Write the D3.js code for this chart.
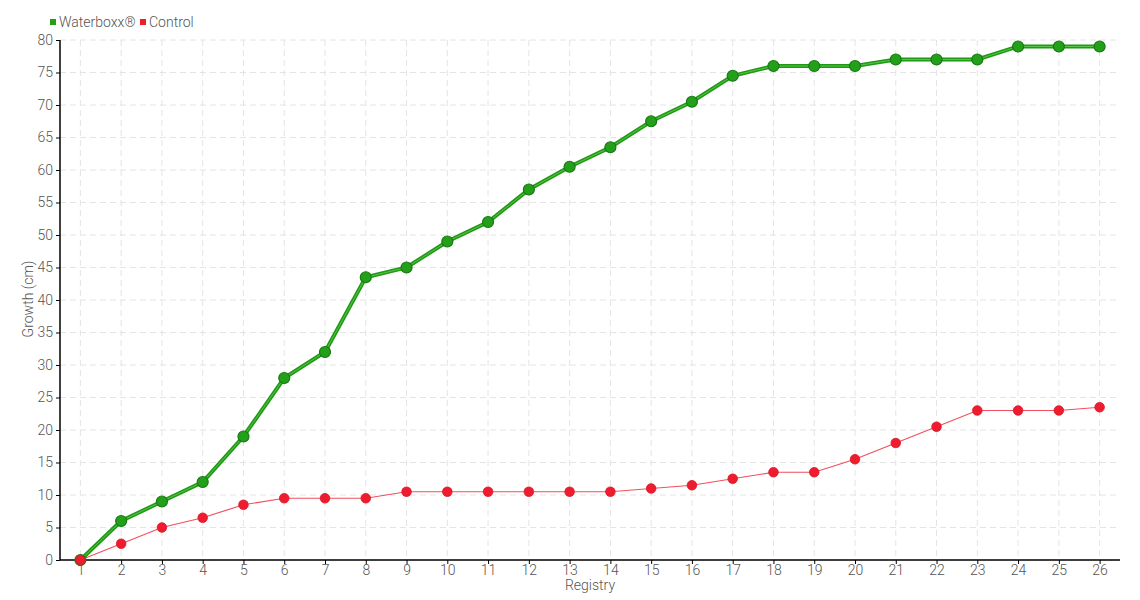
<!DOCTYPE html>
<html><head><meta charset="utf-8">
<script src="https://cdn.jsdelivr.net/npm/d3@7"></script>
<style>
body{margin:0;background:#fff;}
text{font-family:Roboto,"Liberation Sans",sans-serif;font-weight:300;}
</style></head>
<body><svg id="c" width="1140" height="600"></svg>
<script>
const categories = [1,2,3,4,5,6,7,8,9,10,11,12,13,14,15,16,17,18,19,20,21,22,23,24,25,26];
const waterboxx = [0,6,9,12,19,28,32,43.5,45,49,52,57,60.5,63.5,67.5,70.5,74.5,76,76,76,77,77,77,79,79,79];
const control = [0,2.5,5,6.5,8.5,9.5,9.5,9.5,10.5,10.5,10.5,10.5,10.5,10.5,11,11.5,12.5,13.5,13.5,15.5,18,20.5,23,23,23,23.5];
const yTicks = [0,5,10,15,20,25,30,35,40,45,50,55,60,65,70,75,80];
const seriesNames = ["Waterboxx®","Control"];

const svg = d3.select("#c");
const L=60, R=1120, T=40, B=560;
const x = d3.scalePoint().domain(categories).range([L,R]).padding(0.5);
const y = d3.scaleLinear().domain([0,80]).range([B,T]);

// grid
const g = svg.append("g");
g.selectAll(".hg").data(yTicks).join("line")
  .attr("x1",L).attr("x2",R).attr("y1",d=>y(d)).attr("y2",d=>y(d))
  .attr("stroke","#e4e4e4").attr("stroke-dasharray","6,4");
g.selectAll(".vg").data(categories).join("line")
  .attr("x1",d=>x(d)).attr("x2",d=>x(d)).attr("y1",T).attr("y2",B)
  .attr("stroke","#e4e4e4").attr("stroke-dasharray","6,4");

// axes
const ya = svg.append("g").attr("transform",`translate(${L},0)`)
  .call(d3.axisLeft(y).tickValues(yTicks).tickSize(4).tickPadding(3));
const xa = svg.append("g").attr("transform",`translate(0,${B})`)
  .call(d3.axisBottom(x).tickSize(4).tickPadding(1));
[ya,xa].forEach(a=>{
  a.select(".domain").attr("stroke","#000").attr("stroke-width",1.5);
  a.selectAll(".tick line").attr("stroke","#000");
  a.selectAll("text").attr("fill","#555").attr("font-size",14);
});
xa.select(".domain").attr("d",`M${L},0H${R}`);
ya.select(".domain").attr("d",`M0,${B}V${T}`);

// lines
const line = d3.line().x((d,i)=>x(categories[i])).y(d=>y(d));
svg.append("path").datum(control).attr("d",line).attr("fill","none")
  .attr("stroke","#f0505f").attr("stroke-width",1.2);
svg.append("path").datum(waterboxx).attr("d",line).attr("fill","none")
  .attr("stroke","#1e9a14").attr("stroke-width",4);
svg.append("path").datum(waterboxx).attr("d",line).attr("fill","none")
  .attr("stroke","#5cc24a").attr("stroke-width",1);

svg.append("g").selectAll("circle").data(waterboxx).join("circle")
  .attr("cx",(d,i)=>x(categories[i])).attr("cy",d=>y(d)).attr("r",5.5)
  .attr("fill","#22a01a").attr("stroke","#187a12").attr("stroke-width",1.2);
svg.append("g").selectAll("circle").data(control).join("circle")
  .attr("cx",(d,i)=>x(categories[i])).attr("cy",d=>y(d)).attr("r",4.8)
  .attr("fill","#ee1c2e").attr("stroke","#d81828").attr("stroke-width",0.8);

// legend
const leg = svg.append("g");
const legColors = ["#22a01a","#ee1c2e"];
const legX = [50,140];
seriesNames.forEach((n,i)=>{
  leg.append("rect").attr("x",legX[i]).attr("y",19).attr("width",6).attr("height",6).attr("fill",legColors[i]);
  leg.append("text").attr("x",legX[i]+9).attr("y",27).attr("font-size",14).attr("fill","#555").text(n);
});

// axis titles
svg.append("text").attr("x",590).attr("y",590).attr("text-anchor","middle")
  .attr("font-size",14).attr("fill","#555").text("Registry");
svg.append("text").attr("transform","translate(33,299) rotate(-90)").attr("text-anchor","middle")
  .attr("font-size",14).attr("fill","#555").text("Growth (cm)");
</script></body></html>
